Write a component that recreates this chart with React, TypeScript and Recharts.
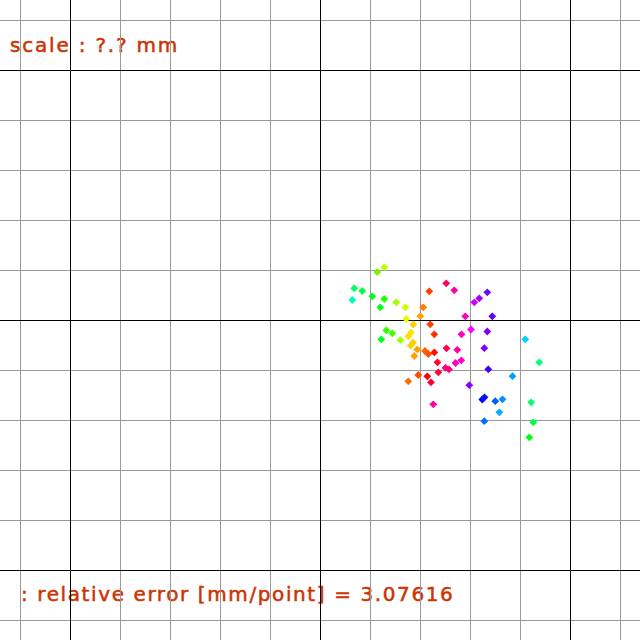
import React from 'react';
import { ScatterChart, Scatter, XAxis, YAxis, ReferenceLine, Customized } from 'recharts';

const xValues = [
  384.3, 377.3, 354.3, 362.3, 352.3, 372.3, 384.3, 380.3, 396.3, 405.3,
  429.3, 446.2, 423.2, 420.3, 406.2, 413.3, 430.2, 386.3, 392.3, 381.3,
  400.5, 411.0, 408.3, 434.3, 413.0, 410.7, 417.3, 425.0, 428.3, 434.3,
  446.5, 461.5, 471.0, 487.3, 525.3, 457.3, 484.3, 414.3, 539.2, 437.5,
  455.5, 461.3, 445.5, 449.0, 438.3, 488.3, 512.5, 418.3, 427.3, 431.0,
  408.3, 469.3, 482.3, 484.5, 495.3, 502.5, 531.2, 433.3, 499.3, 484.3,
  533.3, 529.3, 454.3, 487.3, 479.3, 474.3, 465.3, 492.3,
];

const yValues = [
  267.3, 272.0, 288.3, 291.0, 300.0, 296.3, 299.0, 307.3, 302.3, 307.3,
  291.3, 283.3, 307.3, 316.2, 319.0, 324.5, 324.3, 330.3, 333.3, 339.3,
  340.2, 332.6, 336.3, 334.3, 342.6, 345.6, 349.4, 351.0, 354.0, 352.4,
  348.3, 334.3, 329.5, 331.5, 339.3, 349.8, 348.2, 356.0, 362.3, 362.3,
  363.0, 360.3, 367.8, 369.3, 372.3, 369.3, 376.2, 375.0, 376.3, 382.3,
  381.3, 385.2, 399.6, 397.3, 401.2, 399.3, 402.3, 404.3, 412.3, 421.2,
  422.3, 437.3, 290.3, 292.3, 298.3, 302.3, 316.3, 316.3,
];

const pointColors = [
  '#b8ff00', '#80f000', '#00ff60', '#00ff40', '#00ffb8', '#00ff20', '#20ff00', '#00ff20', '#a0ff00', '#c8ff00',
  '#ff4000', '#ff0060', '#ff8000', '#ffa000', '#e0ff00', '#ffd000', '#ff4000', '#30ff00', '#40ff00', '#00ff20',
  '#a0ff00', '#ffe000', '#ffe000', '#ff3000', '#ffd000', '#ffd000', '#ffa000', '#ff6000', '#ff5000', '#ff1000',
  '#ff0050', '#ff00c0', '#ff00ff', '#8000ff', '#00d0ff', '#ff00a0', '#8000ff', '#ffa000', '#00ff80', '#ff0030',
  '#ff00c0', '#ff00d0', '#ff0080', '#ff0080', '#ff0040', '#4000ff', '#00a0ff', '#ff5000', '#ff0010', '#ff0030',
  '#ff7000', '#9000ff', '#0000ff', '#0010ff', '#0060ff', '#0090ff', '#00ff70', '#ff00a0', '#00b0ff', '#0070ff',
  '#00ff40', '#00ff10', '#ff00a0', '#6010ff', '#a800ff', '#c800ff', '#ff00c0', '#6000ff',
];

const grayGrid = [20, 70, 120, 170, 220, 270, 320, 370, 420, 470, 520, 570, 620];
const blackGrid = [70, 320, 570];

const topLabel = 'scale : ?.? mm';
const bottomLabel = ': relative error [mm/point] = 3.07616';

const data = xValues.map((x, i) => ({ x, y: yValues[i], color: pointColors[i] }));

const Diamond = (props: any) => {
  const { cx, cy, payload } = props;
  if (cx == null || cy == null) return null;
  const r = 3.9;
  return (
    <polygon
      points={`${cx},${cy - r} ${cx + r},${cy} ${cx},${cy + r} ${cx - r},${cy}`}
      fill={payload.color}
      stroke="none"
    />
  );
};

const Labels = () => (
  <g>
    <text x={10} y={52} fill="#cc3300" stroke="#cc3300" strokeWidth={0.5} fontFamily="DejaVu Sans" fontSize={20} letterSpacing={1.8}>
      {topLabel}
    </text>
    <text x={21} y={601} fill="#cc3300" stroke="#cc3300" strokeWidth={0.5} fontFamily="DejaVu Sans" fontSize={20} letterSpacing={1.6}>
      {bottomLabel}
    </text>
  </g>
);

export default function App() {
  return (
    <div style={{ position: 'absolute', left: 0, top: 0, width: 640, height: 640, background: '#fff' }}>
      <ScatterChart width={640} height={640} margin={{ top: 0, right: 0, bottom: 0, left: 0 }}>
        <XAxis type="number" dataKey="x" domain={[0, 640]} hide allowDataOverflow />
        <YAxis type="number" dataKey="y" domain={[0, 640]} reversed hide allowDataOverflow />
        {grayGrid.map((v) => (
          <ReferenceLine key={'gx' + v} x={v} stroke="#999999" strokeWidth={1} shapeRendering="crispEdges" />
        ))}
        {grayGrid.map((v) => (
          <ReferenceLine key={'gy' + v} y={v} stroke="#999999" strokeWidth={1} shapeRendering="crispEdges" />
        ))}
        {blackGrid.map((v) => (
          <ReferenceLine key={'bx' + v} x={v} stroke="#000000" strokeWidth={1} shapeRendering="crispEdges" />
        ))}
        {blackGrid.map((v) => (
          <ReferenceLine key={'by' + v} y={v} stroke="#000000" strokeWidth={1} shapeRendering="crispEdges" />
        ))}
        <Scatter data={data} shape={<Diamond />} isAnimationActive={false} />
        <Customized component={Labels} />
      </ScatterChart>
    </div>
  );
}
